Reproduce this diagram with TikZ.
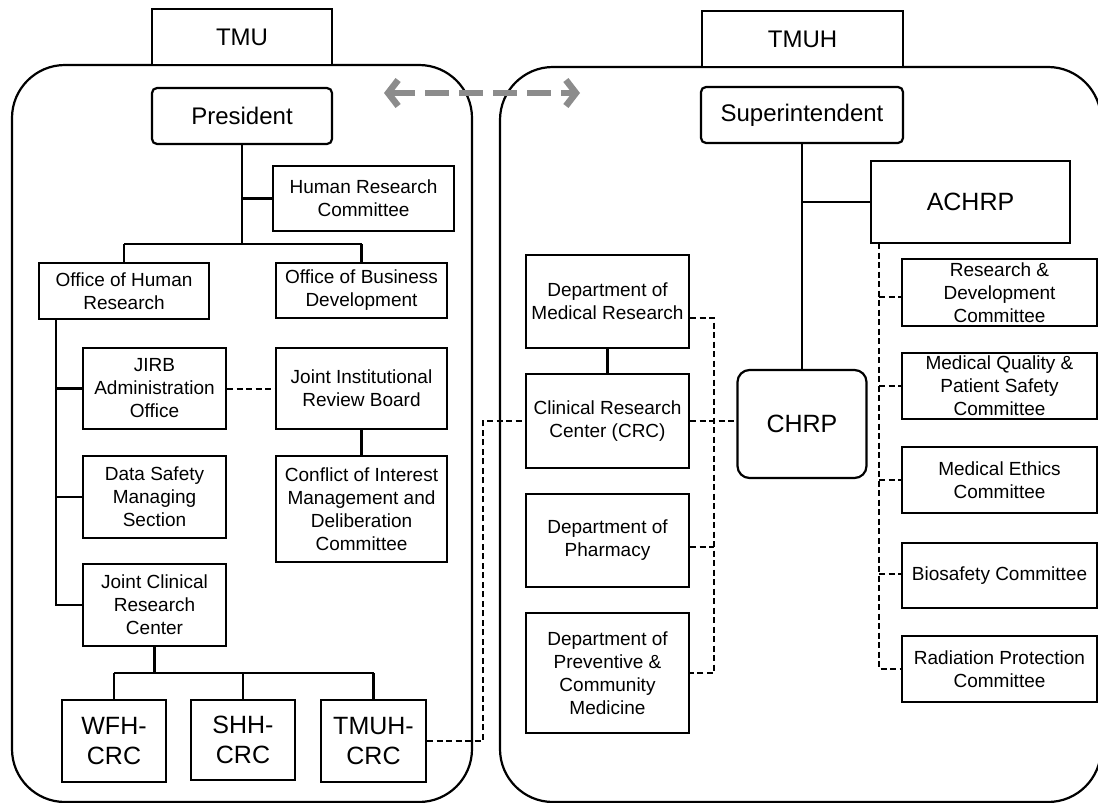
\documentclass[tikz,border=0pt]{standalone}
\usepackage{fontspec}
\setmainfont{Liberation Sans}
\usetikzlibrary{arrows.meta}
\begin{document}
\begin{tikzpicture}[x=1pt,y=-1pt,
  box/.style={draw,line width=2.2pt,inner sep=0pt,align=center,fill=white,
    font=\fontsize{19}{23}\selectfont},
  big/.style={box,font=\fontsize{24}{28}\selectfont},
  huge/.style={box,font=\fontsize{25}{30}\selectfont},
  conn/.style={line width=2.2pt},
  dconn/.style={line width=2pt,dash pattern=on 6pt off 3.5pt},
  frame/.style={line width=2.2pt,rounded corners=53pt}]
\useasboundingbox (0,0) rectangle (1098,803);
\clip (0,0) rectangle (1098,803);
% frames
\draw[frame] (12,65) rectangle (472,802);
\draw[frame] (500,67) rectangle (1101,802);
\node[big,minimum width=180pt,minimum height=56pt] (tmu) at (242,37) {TMU};
\node[big,minimum width=201pt,minimum height=56pt] (tmuh) at (802.5,39) {TMUH};
% gray arrow
\coordinate (ga) at (384,93);
\coordinate (gb) at (580,93);
\draw[line width=6.5pt,draw=gray!90,dash pattern=on 24pt off 10pt,
  {Straight Barb[length=10pt,width=26pt]}-{Straight Barb[length=10pt,width=26pt]}] (ga) -- (gb);
% left side
\node[big,rounded corners=5pt,minimum width=180pt,minimum height=56pt] (pres) at (242,116) {President};
\node[box,minimum width=181pt,minimum height=65pt] (hrc) at (363.5,198.5) {Human Research\\Committee};
\node[box,minimum width=170pt,minimum height=56pt] (ohr) at (124,291) {Office of Human\\Research};
\node[box,minimum width=171pt,minimum height=55pt] (obd) at (361.5,290.5) {Office of Business\\Development};
\node[box,minimum width=143pt,minimum height=81pt] (jirba) at (154.5,388.5) {JIRB\\Administration\\Office};
\node[box,minimum width=171pt,minimum height=81pt] (jirb) at (361.5,388.5) {Joint Institutional\\Review Board};
\node[box,minimum width=143pt,minimum height=82pt] (dsms) at (154.5,497) {Data Safety\\Managing\\Section};
\node[box,minimum width=171pt,minimum height=106pt] (coi) at (361.5,509) {Conflict of Interest\\Management and\\Deliberation\\Committee};
\node[box,minimum width=143pt,minimum height=82pt] (jcrc) at (154.5,605) {Joint Clinical\\Research\\Center};
\node[huge,minimum width=104pt,minimum height=82pt] (wfh) at (114,741) {WFH-\\CRC};
\node[huge,minimum width=104pt,minimum height=80pt] (shh) at (243,740) {SHH-\\CRC};
\node[huge,minimum width=105pt,minimum height=82pt] (tcrc) at (373.5,741) {TMUH-\\CRC};
\coordinate (pbar) at (242,244);
\draw[conn] (pres.south) -- (pbar);
\draw[conn] (pbar -| ohr.north) -- (pbar -| obd.north);
\draw[conn] (pbar -| ohr.north) -- (ohr.north);
\draw[conn] (pbar -| obd.north) -- (obd.north);
\draw[conn] (pres.south |- hrc.west) -- (hrc.west);
\coordinate (ol) at (56,319);
\draw[conn] (ol) |- (jcrc.west);
\draw[conn] (ol |- jirba.west) -- (jirba.west);
\draw[conn] (ol |- dsms.west) -- (dsms.west);
\draw[dconn] (jirba.east) -- (jirb.west);
\draw[conn] (jirb.south) -- (coi.north);
\coordinate (jbar) at (154.5,673);
\draw[conn] (jcrc.south) -- (jbar);
\draw[conn] (jbar -| wfh.north) -- (jbar -| tcrc.north);
\draw[conn] (jbar -| wfh.north) -- (wfh.north);
\draw[conn] (jbar -| shh.north) -- (shh.north);
\draw[conn] (jbar -| tcrc.north) -- (tcrc.north);
% right side
\node[big,rounded corners=5pt,minimum width=202pt,minimum height=56pt] (sup) at (802,115) {Superintendent};
\node[huge,minimum width=199pt,minimum height=82pt] (achrp) at (970.5,202) {ACHRP};
\node[huge,rounded corners=12pt,minimum width=129pt,minimum height=108pt] (chrp) at (802,424) {CHRP};
\node[box,minimum width=163pt,minimum height=93pt] (dmr) at (607.5,301.5) {Department of\\Medical Research};
\node[box,minimum width=163pt,minimum height=94pt] (crc) at (607.5,421) {Clinical Research\\Center (CRC)};
\node[box,minimum width=163pt,minimum height=93pt] (pha) at (607.5,540.5) {Department of\\Pharmacy};
\node[box,minimum width=163pt,minimum height=120pt] (pcm) at (607.5,673) {Department of\\Preventive \&\\Community\\Medicine};
\node[box,minimum width=195pt,minimum height=67pt] (rd) at (999.5,292.5) {Research \&\\Development\\Committee};
\node[box,minimum width=195pt,minimum height=66pt] (mq) at (999.5,386) {Medical Quality \&\\Patient Safety\\Committee};
\node[box,minimum width=195pt,minimum height=66pt] (me) at (999.5,480) {Medical Ethics\\Committee};
\node[box,minimum width=195pt,minimum height=65pt] (bio) at (999.5,575.5) {Biosafety Committee};
\node[box,minimum width=195pt,minimum height=66pt] (rad) at (999.5,669) {Radiation Protection\\Committee};
\draw[conn] (sup.south) -- (chrp.north);
\draw[conn] (sup.south |- achrp.west) -- (achrp.west);
\draw[conn] (dmr.south) -- (crc.north);
\draw[dconn] (crc.east) -- (crc.east -| chrp.west);
\coordinate (dv) at (714,318);
\draw[dconn] (dmr.east |- dv) -- (dv) |- (pcm.east);
\draw[dconn] (pha.east |- 0,547) -- (dv |- 0,547);
\coordinate (av) at (879,243);
\draw[dconn] (av) |- (rad.west);
\draw[dconn] (av |- 0,297) -- (rd.west |- 0,297);
\draw[dconn] (av |- mq.west) -- (mq.west);
\draw[dconn] (av |- me.west) -- (me.west);
\draw[dconn] (av |- 0,574) -- (bio.west |- 0,574);
% cross link
\coordinate (xl) at (483,741);
\draw[dconn] (tcrc.east) -- (xl) |- (crc.west);
\end{tikzpicture}
\end{document}
